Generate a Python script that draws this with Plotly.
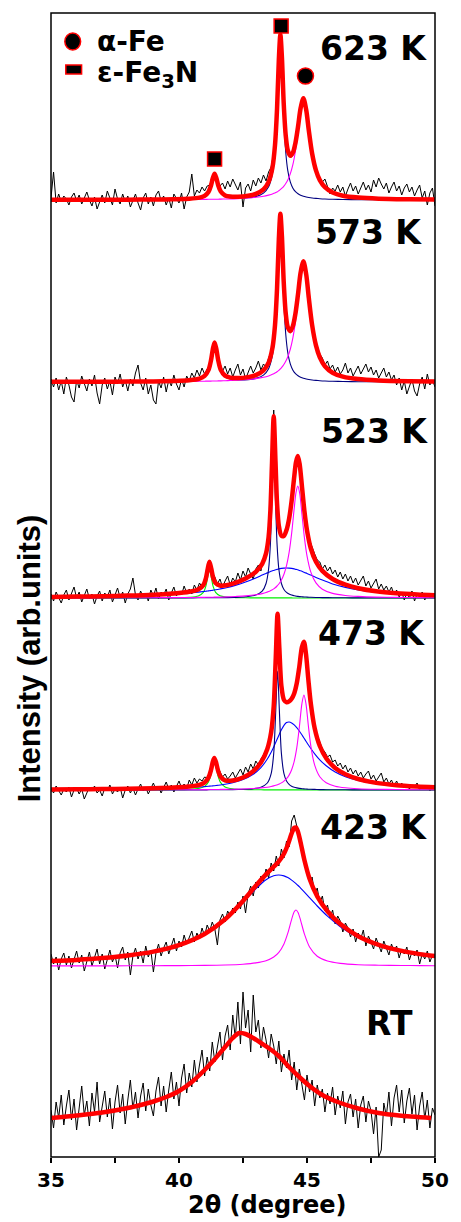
import plotly.graph_objects as go

# ---------------- data ----------------
two_theta = [
    35.0, 35.1, 35.2, 35.3, 35.4, 35.5, 35.6, 35.7, 35.8, 35.9,
    36.0, 36.1, 36.2, 36.3, 36.4, 36.5, 36.6, 36.7, 36.8, 36.9,
    37.0, 37.1, 37.2, 37.3, 37.4, 37.5, 37.6, 37.7, 37.8, 37.9,
    38.0, 38.1, 38.2, 38.3, 38.4, 38.5, 38.6, 38.7, 38.8, 38.9,
    39.0, 39.1, 39.2, 39.3, 39.4, 39.5, 39.6, 39.7, 39.8, 39.9,
    40.0, 40.1, 40.2, 40.3, 40.4, 40.5, 40.6, 40.7, 40.8, 40.9,
    41.0, 41.1, 41.2, 41.3, 41.4, 41.5, 41.6, 41.7, 41.8, 41.9,
    42.0, 42.1, 42.2, 42.3, 42.4, 42.5, 42.6, 42.7, 42.8, 42.9,
    43.0, 43.1, 43.2, 43.3, 43.4, 43.5, 43.6, 43.7, 43.8, 43.9,
    44.0, 44.1, 44.2, 44.3, 44.4, 44.5, 44.6, 44.7, 44.8, 44.9,
    45.0, 45.1, 45.2, 45.3, 45.4, 45.5, 45.6, 45.7, 45.8, 45.9,
    46.0, 46.1, 46.2, 46.3, 46.4, 46.5, 46.6, 46.7, 46.8, 46.9,
    47.0, 47.1, 47.2, 47.3, 47.4, 47.5, 47.6, 47.7, 47.8, 47.9,
    48.0, 48.1, 48.2, 48.3, 48.4, 48.5, 48.6, 48.7, 48.8, 48.9,
    49.0, 49.1, 49.2, 49.3, 49.4, 49.5, 49.6, 49.7, 49.8, 49.9,
    50.0]

data_623 = [
    2, 28, -3, 6, -2, 4, 1, -5, 3, 7,
    -1, 5, -4, 2, 8, 0, -6, 3, -9, -2,
    5, -3, 9, 2, -5, 11, 1, -4, 6, -2,
    4, -7, 0, 6, -3, -10, 2, 7, -4, 3,
    -6, 5, 9, -1, 4, -5, 2, -8, 6, 1,
    -3, 7, -9, 3, 8, 26, 4, 10, 7, 13,
    9, 14, 15, 22, 27, 20, 14, 17, 11, 19,
    13, 21, 15, 10, 18, -7, 12, 16, 9, 20,
    14, 22, 17, 25, 19, 28, 33, 47, 80, 150,
    158, 92, 55, 44, 43, 49, 63, 82, 98, 100,
    84, 62, 47, 35, 27, 22, 18, 21, 14, 6,
    12, 9, 15, 8, 13, 4, 11, 17, 9, 14,
    6, 12, 18, 10, 15, 8, 20, 13, 22, 16,
    11, 17, 7, 13, 18, 9, 14, 5, 12, 16,
    8, 13, 4, 10, 15, 2, 9, -5, 7, 12,
    -6]
data_573 = [
    3, -5, 4, -8, 1, -12, 5, -3, -15, -20,
    2, -6, 6, -2, -9, 3, -4, 7, -11, -22,
    -3, 4, -7, 1, -13, 5, -2, 8, -5, 2,
    -9, 3, -4, 9, 17, -1, -8, 4, -12, -3,
    -18, -22, 1, -6, 5, -10, 2, -4, 7, -2,
    -8, 3, -5, 6, 1, 9, 4, 12, 6, 14,
    8, 13, 17, 31, 41, 27, 19, 11, 16, 8,
    14, 5, 12, 18, 7, 13, 3, 10, 16, 9,
    14, 21, 12, 18, 15, 24, 31, 48, 84, 155,
    165, 96, 63, 53, 50, 62, 80, 101, 117, 119,
    99, 78, 58, 44, 35, 28, 24, 17, 21, 13,
    17, 10, 15, 8, 12, 19, 9, 14, 6, 11,
    16, 8, 13, 18, 10, 15, 7, 12, 4, 9,
    14, 5, 10, 2, 7, -3, 4, -8, 1, -12,
    -4, 3, -9, -14, -2, 5, -7, 8, -3, 2,
    -5]
data_523 = [
    4, -3, 6, 1, -5, 3, 8, -2, 5, 11,
    0, 6, -4, 3, 9, -1, 4, -6, 2, 7,
    -3, 5, 1, 8, -4, 3, 10, 0, 6, -5,
    4, 9, 20, 3, -2, 7, 1, 5, -3, 8,
    2, 10, -1, 6, 3, 9, -2, 5, 11, 2,
    7, 3, 12, 5, 9, 4, 13, 8, 15, 11,
    18, 27, 38, 26, 21, 14, 19, 11, 17, 22,
    13, 20, 16, 25, 18, 27, 21, 30, 24, 19,
    29, 33, 27, 40, 48, 66, 114, 188, 118, 76,
    64, 60, 70, 81, 99, 124, 143, 138, 114, 89,
    71, 58, 50, 44, 38, 36, 29, 33, 27, 31,
    24, 28, 21, 26, 19, 24, 17, 22, 15, 20,
    13, 18, 22, 12, 17, 10, 15, 19, 9, 14,
    8, 12, 6, 11, 3, 8, 1, 6, -2, 5,
    0, 7, -3, 4, 1, 6, -2, 3, 0, 5,
    -1]
data_473 = [
    2, -3, 4, 0, -5, 1, -2, 3, -7, 0,
    2, -4, 1, -9, -2, 3, -1, 4, -3, 0,
    -6, 2, -1, 5, -4, 1, -2, 3, -8, 0,
    4, -3, 2, -5, 1, 6, -1, 3, -4, 2,
    7, 0, 4, -3, 3, 8, 1, 5, -2, 4,
    9, 2, 6, 1, 10, 5, 12, 7, 11, 9,
    13, 12, 17, 27, 33, 24, 18, 13, 16, 11,
    14, 18, 12, 16, 21, 15, 23, 18, 26, 21,
    29, 25, 31, 35, 40, 49, 60, 87, 150, 160,
    106, 92, 87, 90, 93, 99, 108, 125, 145, 149,
    128, 100, 80, 64, 55, 48, 41, 38, 33, 35,
    28, 30, 24, 27, 21, 25, 18, 22, 16, 20,
    14, 18, 12, 16, 19, 11, 15, 9, 13, 17,
    8, 12, 6, 10, 4, 9, 3, 7, 2, 6,
    1, 5, 3, 7, 0, 4, 2, 5, -1, 3,
    1]
data_423 = [
    12, 2, 9, -4, 7, 13, 1, 10, -2, 8,
    15, 3, 11, -5, 6, 14, 0, 9, 17, 2,
    12, -3, 8, 16, 4, 11, -2, 13, 19, 6,
    14, -9, 10, 18, 7, 15, 3, 20, 9, 16,
    -6, 13, 22, 10, 18, 24, 12, 21, 28, 15,
    25, 19, 31, 22, 28, 35, 24, 33, 27, 38,
    30, 41, 35, 44, 37, 21, 46, 52, 44, 55,
    50, 58, 53, 64, 57, 70, 53, 72, 80, 70,
    84, 78, 90, 85, 97, 88, 103, 95, 110, 100,
    117, 108, 125, 119, 145, 151, 140, 132, 122, 104,
    98, 84, 89, 72, 78, 63, 70, 55, 61, 48,
    56, 42, 50, 45, 34, 43, 38, 29, 37, 24,
    33, 27, 36, 20, 30, 24, 17, 28, 21, 14,
    25, 18, 11, 22, 15, 20, 8, 17, 12, 19,
    6, 14, 10, 16, 2, 12, 7, 15, 4, 11,
    8]
data_rt = [
    10, -8, 18, 2, 25, -5, 14, 30, 0, 21,
    -10, 12, 34, 5, 19, -6, 27, 8, 38, -2,
    16, 29, 3, 22, -9, 18, 35, 7, 26, -4,
    20, 40, 11, 28, 2, 24, 37, 9, 31, 15,
    4, 29, 43, 14, 34, 8, 30, 48, 21, 38,
    14, 42, 56, 27, 47, 33, 60, 38, 55, 70,
    44, 63, 49, 78, 58, 72, 88, 60, 84, 95,
    70, 105, 82, 118, 76, 128, 92, 110, 68, 125,
    88, 100, 72, 93, 80, 62, 86, 74, 56, 79,
    48, 66, 52, 70, 40, 58, 30, 51, 36, 20,
    45, 28, 40, 14, 35, 22, 31, 8, 27, 16,
    33, 5, 24, 12, 29, -4, 18, 26, 3, 21,
    -8, 15, 24, -2, 19, 9, -14, 13, -37, -30,
    17, 4, 28, -6, 22, 35, 8, 30, -3, 19,
    32, 6, 25, -10, 14, 28, 1, 20, -8, 12,
    5]

# fitted profiles (sampled where read)
fit_x_high = [35, 36, 37, 38, 39, 39.8, 40.4, 40.8, 41.0, 41.15,
              41.25, 41.32, 41.39, 41.46, 41.53, 41.63, 41.8, 42.0, 42.3, 42.7,
              43.0, 43.3, 43.5, 43.65, 43.75, 43.83, 43.9, 43.96, 44.02, 44.09,
              44.17, 44.25, 44.35, 44.45, 44.55, 44.65, 44.75, 44.86, 44.97, 45.07,
              45.2, 45.35, 45.5, 45.7, 46.0, 46.4, 47.0, 47.8, 49.0, 50.0]
fit_623_total = [0.2, 0.2, 0.2, 0.3, 0.5, 0.8, 1.3, 2.4, 4.2, 8.1,
                 14.5, 21.7, 26.2, 21.8, 14.8, 8.5, 4.6, 3.4, 3.2, 4.2,
                 6.1, 10.6, 18.1, 32.4, 54.9, 91.4, 140.2, 165.5, 142.7, 97.0,
                 64.3, 49.5, 44.2, 47.4, 57.3, 73.4, 91.8, 101.7, 90.0, 69.7,
                 46.5, 29.6, 19.9, 12.8, 7.5, 4.3, 2.4, 1.3, 0.7, 0.4]
fit_623_fe3n = [0.05, 0.07, 0.09, 0.14, 0.22, 0.4, 0.8, 1.8, 3.6, 7.4,
                13.8, 20.9, 25.5, 21.0, 13.9, 7.6, 3.6, 2.2, 1.8, 2.2,
                3.4, 6.9, 13.2, 26.4, 47.8, 83.3, 131.0, 155.1, 131.0, 83.3,
                47.8, 29.4, 17.8, 11.8, 8.3, 6.2, 4.8, 3.7, 3.0, 2.5,
                2.0, 1.6, 1.3, 1.0, 0.7, 0.5, 0.3, 0.2, 0.1, 0.1]
fit_623_afe = [0.1, 0.1, 0.2, 0.2, 0.3, 0.4, 0.5, 0.6, 0.6, 0.7,
               0.7, 0.8, 0.8, 0.8, 0.8, 0.9, 1.0, 1.1, 1.4, 2.0,
               2.7, 3.7, 4.9, 6.0, 7.1, 8.1, 9.3, 10.4, 11.8, 13.7,
               16.5, 20.1, 26.4, 35.6, 49.0, 67.2, 87.0, 98.0, 87.0, 67.2,
               44.5, 28.0, 18.6, 11.8, 6.8, 3.8, 2.0, 1.1, 0.6, 0.4]
fit_573_total = [0.2, 0.2, 0.3, 0.4, 0.6, 1.0, 1.7, 3.3, 6.1, 11.8,
                 21.7, 32.6, 39.5, 32.7, 22.0, 12.3, 6.4, 4.4, 3.9, 4.9,
                 6.9, 11.7, 19.4, 34.1, 56.8, 93.6, 142.7, 168.2, 145.8, 100.5,
                 68.5, 54.7, 50.8, 56.1, 68.6, 88.0, 109.4, 120.7, 107.5, 84.2,
                 57.0, 36.6, 24.7, 15.8, 9.3, 5.4, 2.9, 1.6, 0.8, 0.5]
fit_573_fe3n = [0.1, 0.1, 0.1, 0.2, 0.3, 0.5, 1.1, 2.6, 5.3, 11.0,
                20.8, 31.6, 38.5, 31.7, 20.9, 11.2, 5.2, 3.0, 2.1, 2.4,
                3.6, 6.9, 13.3, 26.5, 47.9, 83.3, 131.0, 155.1, 131.0, 83.3,
                47.8, 29.4, 17.8, 11.8, 8.3, 6.2, 4.8, 3.7, 3.0, 2.5,
                2.0, 1.6, 1.3, 1.0, 0.7, 0.5, 0.3, 0.2, 0.1, 0.1]
fit_573_afe = [0.1, 0.2, 0.2, 0.3, 0.4, 0.5, 0.6, 0.7, 0.8, 0.9,
               0.9, 1.0, 1.0, 1.0, 1.1, 1.1, 1.3, 1.5, 1.8, 2.5,
               3.4, 4.7, 6.1, 7.7, 9.0, 10.3, 11.7, 13.1, 14.8, 17.2,
               20.7, 25.3, 33.0, 44.3, 60.3, 81.8, 104.6, 117.0, 104.6, 81.8,
               55.0, 35.0, 23.4, 14.8, 8.5, 4.9, 2.6, 1.4, 0.7, 0.5]

fit_x_523 = [35, 36, 37, 38, 39, 39.8, 40.4, 40.75, 40.95, 41.05,
             41.12, 41.19, 41.26, 41.33, 41.43, 41.6, 41.85, 42.2, 42.6, 43.0,
             43.25, 43.4, 43.5, 43.57, 43.63, 43.7, 43.77, 43.83, 43.9, 44.0,
             44.1, 44.2, 44.3, 44.4, 44.5, 44.57, 44.64, 44.71, 44.8, 44.9,
             45.0, 45.15, 45.35, 45.6, 46.0, 46.5, 47.0, 47.7, 48.5, 49.3,
             50.0]
fit_523_total = [1.1, 1.4, 1.8, 2.4, 3.3, 4.6, 6.3, 8.6, 12.9, 19.6,
                 28.8, 36.2, 29.4, 20.8, 14.9, 12.5, 12.7, 15.1, 19.4, 26.2,
                 34.2, 44.6, 61.0, 87.6, 132.4, 181.8, 136.1, 94.6, 72.2, 62.2,
                 62.2, 68.0, 79.2, 97.2, 121.0, 135.9, 141.9, 134.4, 112.3, 86.8,
                 67.7, 49.5, 36.3, 27.1, 19.0, 13.3, 9.8, 6.7, 4.7, 3.5,
                 2.8]
fit_523_green = [0.0, 0.0, 0.0, 0.0, 0.1, 0.2, 0.6, 1.9, 5.6, 11.9,
                 20.9, 28.0, 20.9, 11.9, 5.6, 2.2, 0.9, 0.4, 0.2, 0.1,
                 0.1, 0.1, 0.1, 0.1, 0.1, 0.1, 0.1, 0.1, 0.1, 0.1,
                 0.1, 0.1, 0.1, 0.1, 0.0, 0.0, 0.0, 0.0, 0.0, 0.0,
                 0.0, 0.0, 0.0, 0.0, 0.0, 0.0, 0.0, 0.0, 0.0, 0.0,
                 0.0]
fit_523_broad = [1.0, 1.2, 1.6, 2.1, 2.9, 3.9, 5.0, 5.9, 6.5, 6.8,
                 7.0, 7.3, 7.5, 7.8, 8.2, 9.0, 10.3, 12.6, 15.9, 20.0,
                 22.9, 24.6, 25.6, 26.4, 27.0, 27.6, 28.2, 28.6, 29.1, 29.6,
                 29.9, 30.0, 29.9, 29.6, 29.1, 28.6, 28.2, 27.5, 26.7, 25.6,
                 24.6, 22.9, 20.6, 17.9, 14.1, 10.6, 8.1, 5.7, 4.1, 3.0,
                 2.4]
fit_523_fe3n = [0.0, 0.0, 0.0, 0.0, 0.1, 0.1, 0.1, 0.2, 0.2, 0.2,
                0.2, 0.2, 0.2, 0.3, 0.3, 0.3, 0.4, 0.6, 1.2, 2.9,
                6.8, 14.5, 29.0, 53.9, 97.3, 145.0, 97.3, 53.9, 29.0, 14.5,
                8.5, 5.6, 3.9, 2.9, 2.2, 1.9, 1.6, 1.4, 1.2, 1.0,
                0.9, 0.7, 0.5, 0.4, 0.3, 0.2, 0.1, 0.1, 0.1, 0.0,
                0.0]
fit_523_afe = [0.1, 0.1, 0.2, 0.2, 0.3, 0.4, 0.5, 0.6, 0.6, 0.7,
               0.7, 0.7, 0.8, 0.8, 0.9, 0.9, 1.1, 1.5, 2.1, 3.2,
               4.4, 5.4, 6.4, 7.2, 8.0, 9.1, 10.5, 12.0, 14.0, 18.0,
               23.7, 32.3, 45.3, 64.6, 89.6, 105.4, 112.0, 105.4, 84.4, 60.1,
               42.2, 25.9, 15.1, 8.8, 4.6, 2.5, 1.6, 0.9, 0.6, 0.4,
               0.3]

fit_x_473 = [35, 36, 37, 38, 39, 39.8, 40.4, 40.8, 41.0, 41.15,
             41.25, 41.32, 41.38, 41.45, 41.52, 41.62, 41.8, 42.1, 42.5, 42.9,
             43.2, 43.45, 43.6, 43.7, 43.78, 43.85, 43.92, 44.0, 44.1, 44.2,
             44.3, 44.4, 44.5, 44.6, 44.7, 44.8, 44.88, 44.96, 45.05, 45.15,
             45.3, 45.5, 45.75, 46.1, 46.5, 47.0, 47.7, 48.5, 49.3, 50.0]
fit_473_total = [0.5, 0.7, 0.9, 1.2, 1.7, 2.4, 3.5, 5.2, 7.6, 12.4,
                 20.0, 28.1, 32.0, 27.4, 19.9, 13.4, 9.7, 9.5, 12.5, 18.8,
                 27.4, 41.0, 57.8, 83.9, 132.4, 176.2, 141.8, 104.0, 90.0, 87.8,
                 88.6, 91.3, 96.6, 106.7, 123.3, 142.8, 148.2, 136.0, 111.1, 86.2,
                 61.7, 44.0, 31.8, 22.1, 15.7, 11.0, 7.1, 4.8, 3.5, 2.7]
fit_473_green = [0.0, 0.0, 0.0, 0.1, 0.1, 0.2, 0.6, 1.7, 3.6, 8.1,
                 15.4, 23.3, 27.0, 22.2, 14.4, 7.6, 3.1, 1.1, 0.5, 0.3,
                 0.2, 0.1, 0.1, 0.1, 0.1, 0.1, 0.1, 0.1, 0.1, 0.1,
                 0.1, 0.1, 0.1, 0.1, 0.1, 0.1, 0.1, 0.1, 0.1, 0.1,
                 0.1, 0.1, 0.1, 0.0, 0.0, 0.0, 0.0, 0.0, 0.0, 0.0]
fit_473_broad = [0.4, 0.6, 0.7, 1.0, 1.4, 1.9, 2.5, 3.0, 3.4, 3.7,
                 4.0, 4.1, 4.3, 4.5, 4.7, 5.0, 5.7, 7.3, 10.4, 15.7,
                 22.4, 31.0, 37.8, 43.1, 47.7, 51.8, 55.8, 60.2, 64.7, 67.4,
                 68.0, 67.1, 65.1, 62.4, 59.0, 55.2, 52.0, 48.8, 45.2, 41.5,
                 36.2, 30.2, 24.2, 18.0, 13.3, 9.5, 6.3, 4.3, 3.1, 2.4]
fit_473_fe3n = [0.0, 0.0, 0.0, 0.0, 0.1, 0.1, 0.1, 0.1, 0.1, 0.2,
                0.2, 0.2, 0.2, 0.2, 0.2, 0.2, 0.3, 0.4, 0.7, 1.3,
                2.8, 7.0, 16.4, 36.6, 79.9, 119.0, 79.9, 36.6, 16.4, 9.0,
                5.6, 3.8, 2.8, 2.1, 1.6, 1.3, 1.1, 1.0, 0.8, 0.7,
                0.6, 0.4, 0.3, 0.2, 0.2, 0.1, 0.1, 0.1, 0.0, 0.0]
fit_473_afe = [0.1, 0.1, 0.1, 0.1, 0.2, 0.2, 0.3, 0.4, 0.4, 0.4,
               0.5, 0.5, 0.5, 0.5, 0.5, 0.6, 0.6, 0.8, 1.0, 1.5,
               2.1, 2.8, 3.5, 4.1, 4.7, 5.3, 6.0, 7.1, 8.9, 11.3,
               14.9, 20.3, 28.7, 42.1, 62.6, 86.2, 95.0, 86.2, 65.0, 43.9,
               24.9, 13.3, 7.3, 3.8, 2.2, 1.3, 0.7, 0.5, 0.3, 0.2]

fit_x_423 = [35, 36, 37, 38, 39, 40, 41, 41.8, 42.5, 43.0,
             43.4, 43.7, 43.9, 44.1, 44.25, 44.4, 44.5, 44.57, 44.65, 44.75,
             44.9, 45.1, 45.4, 45.8, 46.3, 47.0, 47.8, 48.7, 49.4, 50.0]
fit_423_total = [4.9, 6.1, 7.9, 10.5, 14.4, 20.9, 32.0, 46.7, 65.1, 80.2,
                 91.6, 99.3, 104.6, 112.2, 121.2, 132.6, 138.1, 138.4, 134.1, 123.6,
                 105.8, 87.3, 69.7, 54.7, 41.9, 29.8, 21.2, 15.1, 11.9, 9.9]
fit_423_broad = [4.8, 6.0, 7.7, 10.3, 14.2, 20.5, 31.4, 45.7, 63.3, 77.1,
                 86.3, 90.3, 91.0, 90.1, 88.4, 85.9, 83.9, 82.4, 80.5, 77.9,
                 73.9, 68.3, 60.0, 49.8, 39.3, 28.5, 20.4, 14.6, 11.5, 9.6]
fit_423_afe = [0.1, 0.1, 0.1, 0.2, 0.3, 0.4, 0.6, 1.0, 1.8, 3.1,
               5.3, 9.0, 13.6, 22.1, 32.8, 46.7, 54.2, 56.0, 53.6, 45.7,
               31.9, 19.0, 9.7, 4.9, 2.6, 1.3, 0.8, 0.5, 0.4, 0.3]

fit_x_rt = [35, 36, 37, 38, 38.5, 39, 39.5, 40, 40.5, 41,
            41.4, 41.8, 42.1, 42.35, 42.6, 42.9, 43.2, 43.5, 43.9, 44.3,
            44.7, 45.1, 45.6, 46.2, 47.0, 47.8, 48.6, 49.85]
fit_rt_total = [2, 4.5, 7.5, 12, 15, 18.5, 23, 29, 38, 50,
                61, 73, 82, 87, 86, 82, 77, 72, 64, 53,
                43, 34, 25, 18, 11.5, 7, 4.5, 2]

# phase markers on the 623 K pattern
fe3n_mark_x = [41.39, 43.99]
fe3n_mark_y = [41, 174]
afe_mark_x = [44.94]
afe_mark_y = [124]

panel_labels = ["623 K", "573 K", "523 K", "473 K", "423 K", "RT"]
x_ticks = [35, 40, 45, 50]
x_minor_ticks = [37.5, 42.5, 47.5]

# ---------------- styling / layout ----------------
RED = "#ff0000"
NAVY = "#000080"
MAGENTA = "#ff00ff"
GREEN = "#00ee00"
BLUE = "#0000ff"
BOLD = "DejaVu Sans"

W, H = 461, 1222
PX_L, PX_R, PX_T, PX_B = 51, 440, 13, 1157


def fy(px):
    return (PX_B - px) / (PX_B - PX_T)


def fx(px):
    return (px - PX_L) / (PX_R - PX_L)


# (pixel row of zero intensity, top pixel, bottom pixel) of each stacked panel
panel_px = [(200, 13, 218), (382, 200, 410), (598, 398, 618),
            (790, 600, 808), (966, 800, 990), (1120, 975, 1157)]

panels = [
    dict(data=data_623, fx=fit_x_high, total=fit_623_total,
         comps=[(fit_623_fe3n, NAVY), (fit_623_afe, MAGENTA)]),
    dict(data=data_573, fx=fit_x_high, total=fit_573_total,
         comps=[(fit_573_fe3n, NAVY), (fit_573_afe, MAGENTA)]),
    dict(data=data_523, fx=fit_x_523, total=fit_523_total,
         comps=[(fit_523_green, GREEN), (fit_523_broad, BLUE),
                (fit_523_fe3n, NAVY), (fit_523_afe, MAGENTA)]),
    dict(data=data_473, fx=fit_x_473, total=fit_473_total,
         comps=[(fit_473_green, GREEN), (fit_473_broad, BLUE),
                (fit_473_fe3n, NAVY), (fit_473_afe, MAGENTA)]),
    dict(data=data_423, fx=fit_x_423, total=fit_423_total,
         comps=[(fit_423_broad, BLUE), (fit_423_afe, MAGENTA)]),
    dict(data=data_rt, fx=fit_x_rt, total=fit_rt_total, comps=[]),
]

fig = go.Figure()
for i, p in enumerate(panels):
    ya = "y" if i == 0 else f"y{i + 1}"
    fig.add_trace(go.Scatter(x=two_theta, y=p["data"], mode="lines", xaxis="x", yaxis=ya,
                             line=dict(color="black", width=1), showlegend=False,
                             name=panel_labels[i] + " data"))
    for vals, col in p["comps"]:
        fig.add_trace(go.Scatter(x=p["fx"], y=vals, mode="lines", xaxis="x", yaxis=ya,
                                 line=dict(color=col, width=1.1, shape="spline", smoothing=0.8),
                                 showlegend=False))
    fig.add_trace(go.Scatter(x=p["fx"], y=p["total"], mode="lines", xaxis="x", yaxis=ya,
                             line=dict(color=RED, width=4.5, shape="spline", smoothing=0.8),
                             showlegend=False, name=panel_labels[i] + " fit"))

fig.add_trace(go.Scatter(x=fe3n_mark_x, y=fe3n_mark_y, mode="markers", xaxis="x", yaxis="y",
                         marker=dict(symbol="square", size=14, color="black",
                                     line=dict(color=RED, width=1.5)),
                         showlegend=False, name="ε-Fe3N"))
fig.add_trace(go.Scatter(x=afe_mark_x, y=afe_mark_y, mode="markers", xaxis="x", yaxis="y",
                         marker=dict(symbol="circle", size=16, color="black",
                                     line=dict(color=RED, width=1.5)),
                         showlegend=False, name="α-Fe"))

layout = dict(
    width=W, height=H, autosize=False,
    margin=dict(l=PX_L, r=W - PX_R, t=PX_T, b=H - PX_B, pad=0),
    paper_bgcolor="white", plot_bgcolor="rgba(0,0,0,0)",
    showlegend=False,
    xaxis=dict(domain=[0, 1], range=[35, 50], anchor="y6",
               tickmode="array", tickvals=x_ticks, ticktext=[str(t) for t in x_ticks],
               ticks="outside", ticklen=5, tickwidth=1.5, tickcolor="black",
               showgrid=False, zeroline=False, showline=False,
               minor=dict(tickvals=x_minor_ticks, ticks="outside", ticklen=5,
                          tickwidth=1.5, tickcolor="black")),
)
for i, (zero, top, bot) in enumerate(panel_px):
    key = "yaxis" if i == 0 else f"yaxis{i + 1}"
    layout[key] = dict(domain=[fy(bot), fy(top)], range=[zero - bot, zero - top],
                       visible=False, anchor="x", showgrid=False, zeroline=False)
fig.update_layout(**layout)
fig.update_xaxes(tickfont=dict(family=BOLD, size=20, color="black", weight="bold"))

# frame
fig.add_shape(type="rect", xref="paper", yref="paper", x0=0, x1=1, y0=0, y1=1,
              line=dict(color="black", width=1.5), layer="above")

# panel labels
label_pos = [(47.61, 152), (47.40, 149), (47.63, 167), (47.53, 157), (47.61, 139), (48.22, 97)]
for i, (lx, ly) in enumerate(label_pos):
    fig.add_annotation(x=lx, y=ly, xref="x", yref="y" if i == 0 else f"y{i + 1}",
                       text=panel_labels[i], showarrow=False, xanchor="center", yanchor="middle",
                       font=dict(family=BOLD, size=33, color="black", weight="bold"))

# legend (symbols + text)
fig.add_shape(type="circle", xref="paper", yref="paper",
              x0=fx(65), x1=fx(81), y0=fy(50), y1=fy(33),
              fillcolor="black", line=dict(color=RED, width=1.5))
fig.add_shape(type="rect", xref="paper", yref="paper",
              x0=fx(66), x1=fx(82), y0=fy(74), y1=fy(65),
              fillcolor="black", line=dict(color=RED, width=1.5))
fig.add_annotation(x=fx(96), y=fy(41), xref="paper", yref="paper", text="α-Fe",
                   showarrow=False, xanchor="left", yanchor="middle",
                   font=dict(family=BOLD, size=28, color="black", weight="bold"))
fig.add_annotation(x=fx(96), y=fy(74), xref="paper", yref="paper", text="ε-Fe<sub>3</sub>N",
                   showarrow=False, xanchor="left", yanchor="middle",
                   font=dict(family=BOLD, size=28, color="black", weight="bold"))

# axis titles
fig.add_annotation(x=fx(270), y=fy(1205), xref="paper", yref="paper", text="2θ (degree)",
                   showarrow=False, xanchor="center", yanchor="middle",
                   font=dict(family=BOLD, size=24, color="black", weight="bold"))
fig.add_annotation(x=fx(30), y=fy(658), xref="paper", yref="paper", text="Intensity (arb.units)",
                   showarrow=False, xanchor="center", yanchor="middle", textangle=-90,
                   font=dict(family="Liberation Sans", size=31, color="black", weight="bold"))

fig.write_html("out.html")
